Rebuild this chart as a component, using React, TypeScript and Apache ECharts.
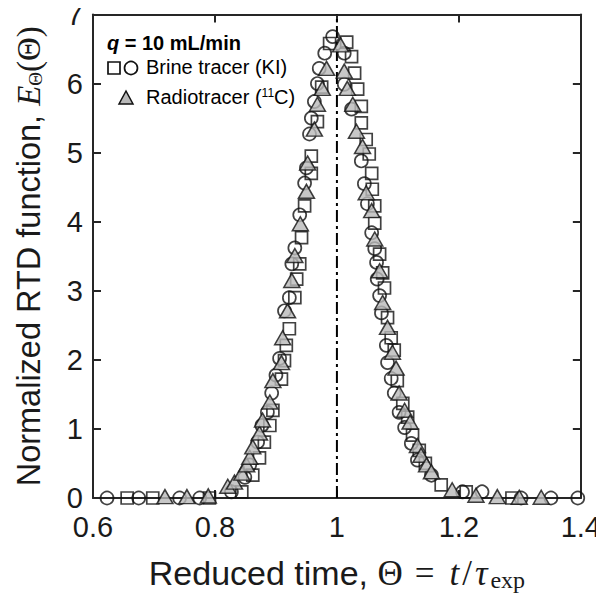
import React, { useEffect, useRef } from "react";
import * as echarts from "echarts";

const xTickValues = [0.6, 0.8, 1, 1.2, 1.4];
const yTickValues = [0, 1, 2, 3, 4, 5, 6, 7];

// Brine tracer (KI), run shown with squares
const brineSquareTheta = [0.656, 0.698, 0.791, 0.844, 0.862, 0.873, 0.881, 0.890, 0.895, 0.909, 0.914, 0.917, 0.922, 0.931, 0.934, 0.939, 0.942, 0.947, 0.958, 0.958, 0.968, 0.975, 0.988, 1.016, 1.024, 1.029, 1.034, 1.040, 1.040, 1.048, 1.053, 1.057, 1.058, 1.062, 1.062, 1.070, 1.075, 1.078, 1.083, 1.089, 1.094, 1.099, 1.108, 1.116, 1.124, 1.135, 1.145, 1.171, 1.212, 1.287];
const brineSquareE = [0, 0, 0, 0.09, 0.33, 0.58, 0.81, 1.05, 1.27, 1.72, 1.99, 2.21, 2.45, 2.90, 3.17, 3.39, 3.77, 4.23, 4.70, 4.95, 5.45, 5.95, 6.58, 6.60, 6.39, 6.15, 5.92, 5.67, 5.43, 5.19, 4.98, 4.70, 4.47, 4.23, 3.98, 3.53, 3.26, 3.04, 2.61, 2.32, 2.14, 1.70, 1.37, 1.17, 0.91, 0.69, 0.50, 0.19, 0.09, 0];

// Brine tracer (KI), run shown with circles
const brineCircleTheta = [0.623, 0.675, 0.742, 0.775, 0.827, 0.849, 0.857, 0.870, 0.877, 0.886, 0.893, 0.900, 0.906, 0.914, 0.922, 0.926, 0.931, 0.939, 0.947, 0.950, 0.955, 0.958, 0.963, 0.968, 0.971, 0.980, 0.993, 1.012, 1.012, 1.024, 1.040, 1.045, 1.050, 1.057, 1.062, 1.065, 1.066, 1.070, 1.073, 1.081, 1.083, 1.089, 1.094, 1.102, 1.111, 1.122, 1.132, 1.155, 1.206, 1.238, 1.302, 1.351, 1.395];
const brineCircleE = [0, 0, 0, 0, 0.09, 0.30, 0.48, 0.81, 1.05, 1.24, 1.52, 1.78, 2.02, 2.71, 2.90, 3.39, 3.62, 4.10, 4.56, 4.78, 5.27, 5.50, 5.74, 6.00, 6.22, 6.44, 6.68, 6.44, 5.99, 5.63, 4.88, 4.55, 4.26, 3.84, 3.61, 3.41, 3.17, 2.93, 2.68, 2.21, 1.96, 1.73, 1.52, 1.24, 1.02, 0.79, 0.55, 0.33, 0.09, 0.09, 0, 0, 0];

// Radiotracer (11C), triangles
const radioTheta = [0.718, 0.754, 0.789, 0.821, 0.832, 0.844, 0.852, 0.857, 0.862, 0.873, 0.878, 0.890, 0.895, 0.909, 0.911, 0.919, 0.926, 0.931, 0.940, 0.950, 0.952, 0.963, 0.968, 0.976, 0.983, 1.006, 1.012, 1.017, 1.026, 1.032, 1.042, 1.048, 1.057, 1.062, 1.070, 1.075, 1.083, 1.091, 1.097, 1.102, 1.111, 1.120, 1.132, 1.138, 1.147, 1.155, 1.189, 1.228, 1.263, 1.299, 1.335];
const radioE = [0.02, 0.02, 0.03, 0.17, 0.23, 0.36, 0.48, 0.59, 0.74, 0.94, 1.13, 1.39, 1.70, 1.96, 2.32, 2.71, 3.15, 3.51, 3.97, 4.44, 4.85, 5.34, 5.70, 5.93, 6.22, 6.56, 6.18, 5.93, 5.70, 5.31, 5.09, 4.42, 4.16, 3.75, 3.29, 2.83, 2.47, 2.11, 1.88, 1.52, 1.27, 1.10, 0.76, 0.62, 0.48, 0.38, 0.12, 0.04, 0.02, 0.01, 0.01];

const refLineTheta = [1, 1];
const refLineE = [0, 7];

const SANS = "'Liberation Sans', Arial, Helvetica, sans-serif";
const SERIF = "'Liberation Serif', 'DejaVu Serif', serif";
const AXIS_COLOR = "#262626";
const MARK_BORDER = "#111111";
const TXT = "#1a1a1a";

const zip = (xs: number[], ys: number[]) => xs.map((x, i) => [x, ys[i]]);

export default function App() {
  const ref = useRef<HTMLDivElement>(null);

  useEffect(() => {
    if (!ref.current) return;
    const chart = echarts.init(ref.current, undefined, { renderer: "svg" });

    const axisLine = { show: true, onZero: false, lineStyle: { color: AXIS_COLOR, width: 2 } };
    const axisTick = { show: true, inside: true, length: 8, lineStyle: { color: AXIS_COLOR, width: 2 } };

    const option: any = {
      animation: false,
      backgroundColor: "#ffffff",
      grid: { left: 93, right: 22, top: 13, bottom: 103, containLabel: false },
      xAxis: [
        {
          type: "value",
          min: xTickValues[0],
          max: xTickValues[xTickValues.length - 1],
          interval: 0.2,
          position: "bottom",
          axisLine,
          axisTick,
          splitLine: { show: false },
          axisLabel: {
            fontFamily: SANS,
            fontSize: 29,
            color: TXT,
            margin: 14,
            formatter: (v: number) => String(Math.round(v * 10) / 10),
          },
          name: "{t|Reduced time, }{m|Θ}{e|=}{i|t}{m|/}{i|τ}{s|exp}",
          nameLocation: "middle",
          nameGap: 56,
          nameTextStyle: {
            rich: {
              t: { fontFamily: SANS, fontSize: 34, color: TXT },
              m: { fontFamily: SERIF, fontSize: 35, color: TXT },
              e: { fontFamily: SERIF, fontSize: 35, color: TXT, padding: [0, 12, 0, 12] },
              i: { fontFamily: SERIF, fontStyle: "italic", fontSize: 35, color: TXT, padding: [0, 3, 0, 3] },
              s: { fontFamily: SERIF, fontSize: 24, color: TXT, verticalAlign: "bottom", padding: [14, 0, 0, 0] },
            },
          },
        },
        {
          type: "value",
          min: xTickValues[0],
          max: xTickValues[xTickValues.length - 1],
          interval: 0.2,
          position: "top",
          axisLine,
          axisTick,
          axisLabel: { show: false },
          splitLine: { show: false },
        },
      ],
      yAxis: [
        {
          type: "value",
          min: yTickValues[0],
          max: yTickValues[yTickValues.length - 1],
          interval: 1,
          position: "left",
          axisLine,
          axisTick,
          splitLine: { show: false },
          axisLabel: { fontFamily: SANS, fontSize: 29, color: TXT, margin: 10 },
          name: "{t|Normalized RTD function, }{i|E}{s|Θ}{m|(Θ)}",
          nameLocation: "middle",
          nameRotate: 90,
          nameGap: 48,
          nameTextStyle: {
            rich: {
              t: { fontFamily: SANS, fontSize: 32.5, color: TXT },
              m: { fontFamily: SERIF, fontSize: 33, color: TXT },
              i: { fontFamily: SERIF, fontStyle: "italic", fontSize: 33, color: TXT },
              s: { fontFamily: SERIF, fontSize: 19, color: TXT, verticalAlign: "bottom", padding: [12, 0, 0, 0] },
            },
          },
        },
        {
          type: "value",
          min: yTickValues[0],
          max: yTickValues[yTickValues.length - 1],
          interval: 1,
          position: "right",
          axisLine,
          axisTick,
          axisLabel: { show: false },
          splitLine: { show: false },
        },
      ],
      series: [
        {
          type: "line",
          data: zip(refLineTheta, refLineE),
          symbol: "none",
          lineStyle: { color: "#000", width: 2, type: [12, 4, 3, 4] },
          z: 1,
        },
        {
          name: "Brine tracer (KI) squares",
          type: "scatter",
          data: zip(brineSquareTheta, brineSquareE),
          symbol: "rect",
          symbolSize: 12,
          itemStyle: { color: "rgba(255,255,255,0)", borderColor: MARK_BORDER, borderWidth: 1.7 },
          z: 2,
        },
        {
          name: "Brine tracer (KI) circles",
          type: "scatter",
          data: zip(brineCircleTheta, brineCircleE),
          symbol: "circle",
          symbolSize: 13,
          itemStyle: { color: "rgba(255,255,255,0)", borderColor: MARK_BORDER, borderWidth: 1.7 },
          z: 3,
        },
        {
          name: "Radiotracer (11C)",
          type: "scatter",
          data: zip(radioTheta, radioE),
          symbol: "triangle",
          symbolSize: [16, 14],
          itemStyle: { color: "#b9b9b9", borderColor: MARK_BORDER, borderWidth: 1.5 },
          z: 4,
        },
      ],
      graphic: [
        {
          type: "text",
          left: 107,
          top: 33,
          z: 10,
          style: {
            text: "{q|q}{b| = 10 mL/min}",
            rich: {
              q: { fontFamily: SANS, fontSize: 20, fontWeight: "bold", fontStyle: "italic", fill: "#000" },
              b: { fontFamily: SANS, fontSize: 20, fontWeight: "bold", fill: "#000" },
            },
          },
        },
        {
          type: "rect",
          z: 10,
          shape: { x: 108, y: 62, width: 12, height: 12 },
          style: { fill: "none", stroke: MARK_BORDER, lineWidth: 1.7 },
        },
        {
          type: "circle",
          z: 10,
          shape: { cx: 131, cy: 68, r: 6.5 },
          style: { fill: "none", stroke: MARK_BORDER, lineWidth: 1.7 },
        },
        {
          type: "text",
          left: 146,
          top: 57,
          z: 10,
          style: { text: "Brine tracer (KI)", fontFamily: SANS, fontSize: 20, fill: "#000" },
        },
        {
          type: "polygon",
          z: 10,
          shape: { points: [[126, 91], [119, 104], [133, 104]] },
          style: { fill: "#b9b9b9", stroke: MARK_BORDER, lineWidth: 1.5 },
        },
        {
          type: "text",
          left: 146,
          top: 87,
          z: 10,
          style: {
            text: "{r|Radiotracer (}{p|11}{r|C)}",
            rich: {
              r: { fontFamily: SANS, fontSize: 20, fill: "#000" },
              p: { fontFamily: SANS, fontSize: 12, fill: "#000", verticalAlign: "top", padding: [0, 0, 8, 0] },
            },
          },
        },
      ],
    };

    chart.setOption(option);
    return () => chart.dispose();
  }, []);

  return <div ref={ref} style={{ width: 604, height: 601, margin: -8 }} />;
}
